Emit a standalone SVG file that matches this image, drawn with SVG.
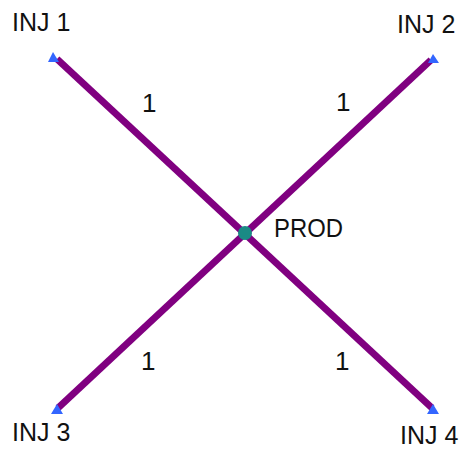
<svg xmlns="http://www.w3.org/2000/svg" width="467" height="451" viewBox="0 0 467 451">
<style>
.lbl{font-family:"Liberation Sans",Arial,sans-serif;font-size:25px;fill:#111}
.w{font-family:"Liberation Sans",Arial,sans-serif;font-size:26px;fill:#111}
.edge{stroke:#800080;stroke-width:7;stroke-linecap:butt}
.inj{fill:#3366ff}
</style>
<rect width="467" height="451" fill="#fff"/>
<g id="connectors">
<line class="edge" x1="57" y1="59" x2="432" y2="408"/>
<line class="edge" x1="431" y1="60" x2="58" y2="408"/>
<text class="w" x="142" y="112">1</text>
<text class="w" x="336" y="111">1</text>
<text class="w" x="141" y="370">1</text>
<text class="w" x="335" y="370">1</text>
</g>
<g id="inj1"><polygon class="inj" points="53,52 59,62 48,62"/><text class="lbl" x="12" y="31">INJ 1</text></g>
<g id="inj2"><polygon class="inj" points="433,54 439,63 428,63"/><text class="lbl" x="397" y="33">INJ 2</text></g>
<g id="inj3"><polygon class="inj" points="57,404 63,414 51,414"/><text class="lbl" x="12" y="441">INJ 3</text></g>
<g id="inj4"><polygon class="inj" points="433,404 439,414 427,414"/><text class="lbl" x="400" y="444">INJ 4</text></g>
<g id="prod"><circle cx="245" cy="233" r="7" fill="#1a8a85"/><text class="lbl" x="274" y="237" textLength="69" lengthAdjust="spacingAndGlyphs">PROD</text></g>
</svg>
